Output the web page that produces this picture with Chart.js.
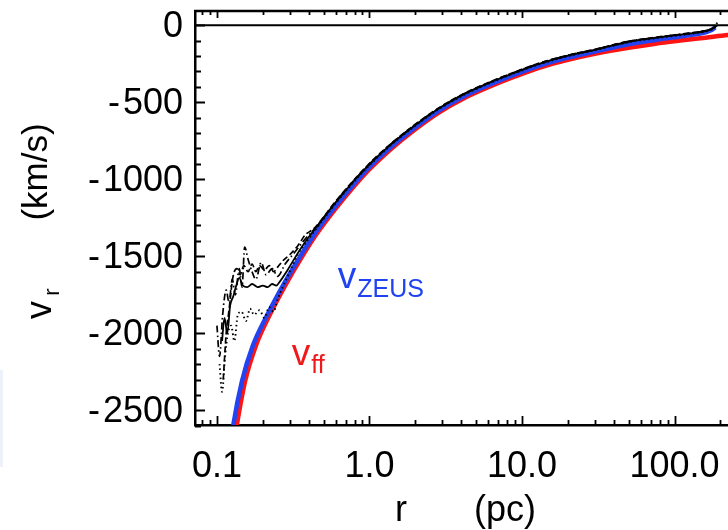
<!DOCTYPE html>
<html>
<head>
<meta charset="utf-8">
<script src="https://cdn.jsdelivr.net/npm/chart.js@4.4.1/dist/chart.umd.min.js"></script>
<style>
  html, body { margin: 0; padding: 0; background: #fff; }
  #wrap { position: relative; width: 728px; height: 530px; overflow: hidden; }
  #c { position: absolute; left: 0; top: 0; }
  #strip { position: absolute; left: 0; top: 370px; width: 3px; height: 97px; background: #edf2fa; }
</style>
</head>
<body>
<div id="wrap">
  <canvas id="c" width="800" height="530"></canvas>
  <div id="strip"></div>
</div>
<script>
(function () {
  'use strict';

  var FONT = '"Liberation Sans", Arial, Helvetica, sans-serif';

  // axes
  var xRange = [0.0718, 665];
  var yRange = [-2595, 92];
  var xTicks = [0.1, 1, 10, 100];
  var xTickLabels = ['0.1', '1.0', '10.0', '100.0'];
  var xMinorTicks = [0.08, 0.09, 0.2, 0.3, 0.4, 0.5, 0.6, 0.7, 0.8, 0.9,
    2, 3, 4, 5, 6, 7, 8, 9, 20, 30, 40, 50, 60, 70, 80, 90, 200, 300, 400, 500, 600];
  var yTicks = [0, -500, -1000, -1500, -2000, -2500];
  var yTickLabels = ['0', '-\u200A500', '-\u200A1000', '-\u200A1500', '-\u200A2000', '-\u200A2500'];
  var yMinorTicks = [-100, -200, -300, -400, -600, -700, -800, -900, -1100, -1200, -1300, -1400,
    -1600, -1700, -1800, -1900, -2100, -2200, -2300, -2400, -2600];

  // v_ff (red)
  var rFF = [0.125, 0.135, 0.153, 0.18, 0.222, 0.28, 0.36, 0.45, 0.6, 0.8, 1.0, 1.36, 2, 2.9, 4.2,
    6.17, 9, 13.1, 20, 30, 51, 75, 109, 160, 224, 320, 500];
  var vFF = [-2800, -2595, -2310, -2080, -1880, -1690, -1505, -1355, -1190, -1040, -935, -810, -675, -562, -472,
    -398, -333, -275, -225, -186, -145, -120, -100, -81, -64, -54, -45];

  // v_ZEUS (blue)
  var rZeus = [0.12, 0.128, 0.146, 0.172, 0.214, 0.28, 0.36, 0.45, 0.6, 0.8, 1.0, 1.36, 2, 2.9, 4.2,
    6.17, 9, 13.1, 20, 30, 51, 75, 109, 140, 160, 175, 185];
  var vZeus = [-2800, -2595, -2310, -2080, -1880, -1665, -1483, -1335, -1172, -1024, -920, -796, -662, -549, -459,
    -385, -320, -262, -211, -171, -122, -96, -74, -58, -46, -32, -14];

  // simulation profiles (black)
  var rSolid = [0.108, 0.112, 0.117, 0.122, 0.128, 0.133, 0.14, 0.148, 0.158, 0.17, 0.185, 0.2, 0.215, 0.23,
    0.245, 0.26, 0.29, 0.32, 0.36, 0.4, 0.45, 0.6, 0.8, 1.0, 1.36, 2, 2.9, 4.2, 6.17, 9, 13.1, 20, 30, 51,
    75, 109, 140, 160, 175, 185, 190];
  var vSolid = [-2050, -1900, -2000, -1820, -1760, -1700, -1640, -1690, -1700, -1680, -1700, -1690, -1700, -1680,
    -1690, -1660, -1590, -1520, -1440, -1375, -1310, -1150, -1005, -903, -780, -648, -536, -446, -372, -307,
    -249, -198, -160, -106, -82, -62, -48, -38, -26, -12, -3];

  var rDash = [0.11, 0.115, 0.12, 0.127, 0.135, 0.142, 0.15, 0.16, 0.17, 0.18, 0.19, 0.205, 0.22, 0.235,
    0.25, 0.27, 0.3, 0.34, 0.38, 0.42, 0.45, 0.6, 0.8, 1.0, 1.36, 2, 2.9, 4.2, 6.17, 9, 13.1, 20, 30, 51,
    75, 109, 140, 160, 175, 185, 190];
  var vDash = [-2300, -2000, -1850, -1640, -1580, -1620, -1560, -1600, -1550, -1600, -1560, -1590, -1560, -1600,
    -1570, -1530, -1490, -1430, -1360, -1330, -1302, -1143, -999, -897, -775, -643, -532, -442, -368, -303,
    -245, -195, -157, -103, -79, -59, -45, -35, -23, -9, 0];

  var rDot = [0.104, 0.108, 0.113, 0.118, 0.124, 0.13, 0.137, 0.145, 0.155, 0.165, 0.175, 0.19, 0.205, 0.22,
    0.235, 0.25, 0.27, 0.3, 0.34, 0.4, 0.45, 0.6, 0.8, 1.0, 1.36, 2, 2.9, 4.2, 6.17, 9, 13.1, 20, 30, 51,
    75, 109, 140, 160, 175, 185, 192];
  var vDot = [-2200, -2380, -2150, -2000, -1950, -2050, -1880, -1860, -1920, -1840, -1880, -1850, -1900, -1830,
    -1860, -1780, -1700, -1600, -1485, -1385, -1318, -1157, -1011, -909, -785, -652, -540, -450, -376, -311,
    -253, -201, -163, -109, -85, -65, -51, -41, -29, -8, 25];

  var rDashDot = [0.1, 0.104, 0.109, 0.115, 0.12, 0.126, 0.132, 0.14, 0.146, 0.152, 0.16, 0.17, 0.18, 0.195,
    0.21, 0.23, 0.25, 0.28, 0.32, 0.37, 0.42, 0.45, 0.6, 0.8, 1.0, 1.36, 2, 2.9, 4.2, 6.17, 9, 13.1, 20, 30,
    51, 75, 109, 140, 160, 175, 185, 190];
  var vDashDot = [-1950, -2150, -1880, -1720, -1800, -1650, -1750, -1580, -1700, -1440, -1520, -1600, -1650, -1540,
    -1620, -1580, -1630, -1550, -1480, -1400, -1340, -1306, -1147, -1002, -900, -777, -645, -534, -444, -370,
    -305, -247, -196, -158, -104, -80, -60, -46, -36, -24, -10, -1];

  var rZero = [0.0718, 665];
  var vZero = [0, 0];

  // label anchors (data coords)
  var zeusLabelAt = { r: 0.62, v: -1704 };
  var ffLabelAt = { r: 0.309, v: -2203 };

  function pts(r, v) {
    return r.map(function (x, i) { return { x: x, y: v[i] }; });
  }

  function line(r, v, color, width, dash, order) {
    return {
      data: pts(r, v),
      borderColor: color,
      borderWidth: width,
      borderDash: dash,
      pointRadius: 0,
      fill: false,
      order: order,
      cubicInterpolationMode: 'monotone',
    };
  }

  function drawSub(ctx, x, y, main, sub, color, mainSize, subSize, drop) {
    ctx.fillStyle = color;
    ctx.textAlign = 'left';
    ctx.textBaseline = 'alphabetic';
    ctx.font = mainSize + 'px ' + FONT;
    ctx.fillText(main, x, y);
    var w = ctx.measureText(main).width;
    ctx.font = subSize + 'px ' + FONT;
    ctx.fillText(sub, x + w + 1, y + drop);
  }

  function rotText(ctx, txt, x, y, size) {
    ctx.save();
    ctx.translate(x, y);
    ctx.rotate(-Math.PI / 2);
    ctx.font = size + 'px ' + FONT;
    ctx.fillText(txt, 0, 0);
    ctx.restore();
  }

  var frame = {
    id: 'frame',
    afterDraw: function (chart) {
      var ctx = chart.ctx;
      var a = chart.chartArea;
      var sx = chart.scales.x;
      var sy = chart.scales.y;
      ctx.save();
      ctx.strokeStyle = '#000';
      ctx.lineWidth = 2.5;
      ctx.beginPath();
      ctx.moveTo(a.left - 1, a.top);
      ctx.lineTo(a.right, a.top);
      ctx.stroke();

      ctx.lineWidth = 1.8;
      ctx.beginPath();
      xTicks.forEach(function (t) {
        var px = Math.round(sx.getPixelForValue(t)) + 0.5;
        ctx.moveTo(px, a.bottom); ctx.lineTo(px, a.bottom - 9);
        ctx.moveTo(px, a.top); ctx.lineTo(px, a.top + 7);
      });
      xMinorTicks.forEach(function (t) {
        var px = Math.round(sx.getPixelForValue(t)) + 0.5;
        ctx.moveTo(px, a.bottom); ctx.lineTo(px, a.bottom - 5);
        ctx.moveTo(px, a.top); ctx.lineTo(px, a.top + 4);
      });
      yTicks.forEach(function (t) {
        var py = Math.round(sy.getPixelForValue(t)) + 0.5;
        ctx.moveTo(a.left, py); ctx.lineTo(a.left + 10, py);
      });
      yMinorTicks.forEach(function (t) {
        var py = Math.round(sy.getPixelForValue(t)) + 0.5;
        ctx.moveTo(a.left, py); ctx.lineTo(a.left + 6, py);
      });
      ctx.stroke();

      // curve labels
      drawSub(ctx, sx.getPixelForValue(zeusLabelAt.r), sy.getPixelForValue(zeusLabelAt.v),
        'v', 'ZEUS', '#1f43f2', 37, 25, 9);
      drawSub(ctx, sx.getPixelForValue(ffLabelAt.r), sy.getPixelForValue(ffLabelAt.v),
        'v', 'ff', '#f01818', 37, 25, 8);

      // axis titles
      ctx.fillStyle = '#000';
      ctx.textBaseline = 'alphabetic';
      ctx.textAlign = 'center';
      ctx.font = '36px ' + FONT;
      ctx.fillText('r', 401, 521);
      ctx.fillText('(pc)', 505, 521);

      rotText(ctx, '(km/s)', 47, 172, 35);
      rotText(ctx, 'v', 51, 310, 36);
      rotText(ctx, 'r', 59, 292, 22);

      ctx.restore();
    },
  };

  new Chart(document.getElementById('c'), {
    type: 'line',
    data: {
      datasets: [
        line(rFF, vFF, '#ff1414', 4.5, [], 5),
        line(rZeus, vZeus, '#2343f0', 4.5, [], 4),
        line(rDot, vDot, '#000', 1.9, [1.5, 3], 3),
        line(rDashDot, vDashDot, '#000', 1.7, [7, 3, 1.5, 3], 3),
        line(rDash, vDash, '#000', 1.7, [6, 3], 2),
        line(rSolid, vSolid, '#000', 1.8, [], 2),
        line(rZero, vZero, '#000', 2, [], 1),
      ],
    },
    options: {
      responsive: false,
      animation: false,
      devicePixelRatio: 1,
      layout: { padding: { left: 0, top: 11, right: 0, bottom: 0 } },
      plugins: { legend: { display: false }, tooltip: { enabled: false } },
      scales: {
        x: {
          type: 'logarithmic',
          min: xRange[0],
          max: xRange[1],
          afterBuildTicks: function (s) { s.ticks = xTicks.map(function (v) { return { value: v }; }); },
          afterFit: function (s) { s.height = 105; s.paddingLeft = 0; s.paddingRight = 0; },
          ticks: {
            autoSkip: false,
            maxRotation: 0,
            padding: 20,
            color: '#000',
            font: { family: FONT, size: 36 },
            callback: function (v, i) { return xTickLabels[i]; },
          },
          grid: { display: false, drawTicks: false },
          border: { display: true, color: '#000', width: 2.5 },
        },
        y: {
          type: 'linear',
          min: yRange[0],
          max: yRange[1],
          afterBuildTicks: function (s) { s.ticks = yTicks.map(function (v) { return { value: v }; }); },
          afterFit: function (s) { s.width = 195; s.paddingTop = 0; s.paddingBottom = 0; },
          ticks: {
            autoSkip: false,
            padding: 12,
            labelOffset: 2,
            color: '#000',
            font: { family: FONT, size: 36 },
            callback: function (v, i) { return yTickLabels[i]; },
          },
          grid: { display: false, drawTicks: false },
          border: { display: true, color: '#000', width: 2.5 },
        },
      },
    },
    plugins: [frame],
  });
})();
</script>
</body>
</html>
